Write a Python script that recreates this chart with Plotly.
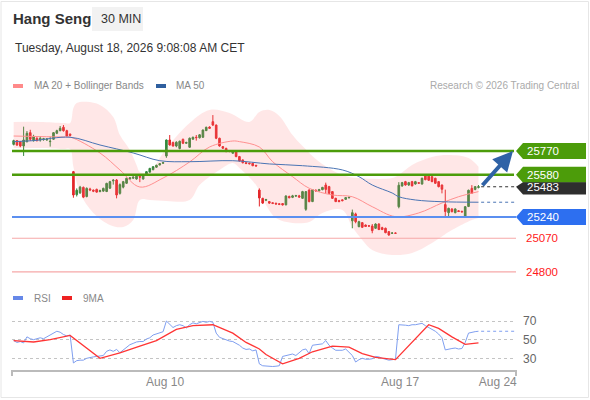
"""Hang Seng 30 min chart with Bollinger bands, MA50, key levels and RSI."""

import plotly.graph_objects as go

# ---------------- data ----------------
# 30 min bars, x = bar number (weekends/nights removed)
OPEN = [25823, 25853, 25845, 25810, 25845, 25917, 25853, 25872, 25858, 25862,
        25860, 25845, 25864, 25912, 25933, 25960, 25933, 25905, 25604, 25420,
        25435, 25478, 25405, 25465, 25455, 25462, 25445, 25448, 25445, 25472,
        25530, 25537, 25430, 25480, 25511, 25545, 25552, 25545, 25566, 25545,
        25577, 25600, 25620, 25640, 25658, 25672, 25730, 25858, 25837, 25810,
        25790, 25863, 25832, 25800, 25865, 25880, 25876, 25880, 25933, 25962,
        26005, 25978, 25872, 25805, 25791, 25770, 25752, 25765, 25725, 25698,
        25676, 25672, 25671, 25655, 25457, 25390, 25375, 25364, 25354, 25350,
        25346, 25348, 25338, 25405, 25398, 25408, 25410, 25390, 25302, 25457,
        25364, 25455, 25450, 25460, 25497, 25484, 25444, 25390, 25372, 25378,
        25382, 25394, 25210, 25265, 25163, 25195, 25176, 25170, 25168, 25150,
        25184, 25155, 25150, 25123, 25110, 25112, 25323, 25489, 25524, 25497,
        25524, 25505, 25515, 25505, 25570, 25568, 25564, 25551, 25524, 25497,
        25340, 25275, 25305, 25275, 25290, 25286, 25245, 25325, 25470, 25462,
        25478]
HIGH = [25860, 25858, 25850, 25965, 25930, 25940, 25900, 25880, 25890, 25875,
        25874, 25885, 25922, 25940, 25970, 25978, 25940, 25910, 25610, 25470,
        25490, 25485, 25478, 25475, 25462, 25468, 25460, 25476, 25515, 25530,
        25545, 25545, 25510, 25530, 25556, 25560, 25566, 25572, 25585, 25578,
        25608, 25635, 25648, 25660, 25673, 25680, 25862, 25898, 25845, 25848,
        25853, 25870, 25845, 25878, 25885, 25898, 25905, 25942, 25965, 25968,
        26058, 25982, 25876, 25810, 25796, 25775, 25770, 25770, 25730, 25702,
        25680, 25676, 25675, 25658, 25470, 25395, 25386, 25368, 25358, 25356,
        25350, 25352, 25414, 25412, 25418, 25418, 25418, 25450, 25448, 25462,
        25465, 25462, 25466, 25482, 25516, 25490, 25448, 25395, 25378, 25382,
        25400, 25404, 25300, 25275, 25210, 25200, 25180, 25175, 25184, 25190,
        25190, 25162, 25155, 25128, 25118, 25116, 25520, 25522, 25530, 25522,
        25530, 25530, 25520, 25556, 25574, 25572, 25568, 25555, 25528, 25500,
        25460, 25315, 25310, 25310, 25296, 25290, 25328, 25460, 25496, 25488,
        25497]
LOW = [25815, 25810, 25800, 25730, 25838, 25850, 25845, 25845, 25845, 25852,
       25850, 25805, 25860, 25905, 25928, 25925, 25885, 25888, 25395, 25405,
       25425, 25392, 25398, 25448, 25440, 25435, 25438, 25442, 25440, 25465,
       25500, 25390, 25420, 25470, 25505, 25540, 25545, 25540, 25520, 25540,
       25572, 25596, 25615, 25635, 25654, 25668, 25715, 25812, 25805, 25800,
       25783, 25825, 25826, 25795, 25860, 25853, 25870, 25876, 25930, 25948,
       25970, 25865, 25805, 25786, 25760, 25760, 25748, 25720, 25685, 25670,
       25664, 25662, 25648, 25645, 25325, 25345, 25368, 25346, 25344, 25340,
       25336, 25332, 25334, 25390, 25392, 25402, 25395, 25386, 25290, 25358,
       25360, 25444, 25446, 25455, 25430, 25425, 25385, 25360, 25358, 25366,
       25378, 25390, 25150, 25190, 25158, 25152, 25160, 25160, 25110, 25145,
       25135, 25135, 25110, 25090, 25105, 25106, 25310, 25484, 25492, 25490,
       25486, 25500, 25506, 25500, 25535, 25530, 25520, 25505, 25478, 25430,
       25240, 25243, 25278, 25270, 25280, 25276, 25238, 25320, 25425, 25455,
       25470]
CLOSE = [25853, 25818, 25810, 25858, 25912, 25864, 25885, 25855, 25872, 25868,
         25866, 25848, 25917, 25933, 25952, 25933, 25890, 25895, 25417, 25455,
         25480, 25400, 25470, 25458, 25448, 25440, 25452, 25470, 25510, 25524,
         25535, 25417, 25500, 25524, 25551, 25555, 25560, 25568, 25560, 25570,
         25604, 25630, 25644, 25655, 25668, 25676, 25858, 25818, 25810, 25840,
         25848, 25832, 25838, 25872, 25880, 25877, 25900, 25938, 25960, 25952,
         25978, 25872, 25810, 25792, 25765, 25766, 25765, 25725, 25690, 25676,
         25670, 25668, 25652, 25650, 25393, 25352, 25380, 25352, 25350, 25345,
         25342, 25338, 25409, 25395, 25410, 25412, 25400, 25444, 25444, 25364,
         25460, 25450, 25460, 25478, 25462, 25430, 25390, 25364, 25365, 25372,
         25396, 25398, 25275, 25203, 25203, 25158, 25165, 25168, 25131, 25184,
         25140, 25140, 25115, 25096, 25112, 25110, 25495, 25516, 25497, 25516,
         25490, 25524, 25512, 25551, 25540, 25535, 25524, 25511, 25484, 25463,
         25284, 25310, 25283, 25305, 25285, 25282, 25323, 25455, 25432, 25484,
         25483]

# Bollinger bands (read at sparse bars)
UPPER_IDX = [0, 8, 15, 17, 18, 19, 22, 26, 30, 32, 35, 37, 38, 41, 44, 46, 53, 59,
             65, 71, 74, 77, 80, 84, 87, 92, 99, 104, 114, 116, 120, 126, 131, 137, 140]
UPPER_VAL = [26003, 26003, 25995, 25995, 26115, 26155, 26165, 26139, 26043, 25898,
             25778, 25658, 25602, 25602, 25714, 25790, 25995, 26099, 26075, 26003,
             26083, 26099, 26051, 25898, 25810, 25684, 25578, 25553, 25553, 25578,
             25658, 25722, 25738, 25714, 25644]
LOWER_IDX = [0, 8, 15, 17, 18, 20, 24, 29, 33, 36, 38, 41, 46, 53, 56, 62, 66, 68,
             73, 76, 79, 84, 89, 93, 99, 102, 105, 108, 114, 120, 126, 132, 138, 140]
LOWER_VAL = [25794, 25794, 25786, 25786, 25642, 25433, 25273, 25177, 25161, 25217,
             25377, 25377, 25369, 25377, 25497, 25618, 25674, 25634, 25497, 25337,
             25233, 25193, 25201, 25273, 25297, 25161, 25056, 24976, 24936, 24952,
             25032, 25136, 25217, 25233]
MA20_IDX = [0, 15, 17, 26, 32, 38, 45, 53, 59, 66, 68, 74, 78, 84, 89, 96, 102,
            108, 115, 122, 129, 134, 140]
MA20_VAL = [25890, 25882, 25882, 25754, 25618, 25481, 25553, 25682, 25802, 25850,
            25845, 25802, 25684, 25564, 25471, 25417, 25403, 25323, 25243, 25273,
            25353, 25403, 25444]
MA50_IDX = [0, 6, 17, 26, 36, 44, 53, 66, 77, 87, 99, 104, 108, 114, 116, 121, 129, 140]
MA50_VAL = [25845, 25853, 25880, 25818, 25754, 25692, 25684, 25692, 25666, 25652,
            25618, 25564, 25497, 25433, 25403, 25377, 25363, 25359]

# key levels
RESISTANCES = [25770, 25580]
SUPPORT = 25240
SUPPORTS_2 = [25070, 24800]

# RSI per bar and its 9 period MA (sparse)
RSI = [49, 47, 48, 46.5, 53, 51, 50, 51, 52, 51,
       53, 55.5, 57, 59, 58, 55.5, 54, 55, 25, 27.5,
       28, 28, 30, 31, 31.5, 32, 32.5, 33, 37.5, 39,
       37.5, 39.5, 36, 39, 42, 44.6, 46, 47.5, 48, 48,
       50.7, 52, 55, 56.4, 57.5, 58.5, 70, 67, 63, 65,
       66, 65, 62.5, 66, 68, 67, 68, 69.6, 68.6, 69.6,
       68.6, 57, 52.5, 51, 50, 48.5, 48, 46.4, 44, 41,
       39.5, 40, 38, 39, 24, 22, 21.5, 21, 21.2, 21.5,
       22, 32, 33, 33.5, 34.6, 33, 36, 39, 40, 35,
       44, 44.3, 44.6, 45.5, 49, 44, 41, 38.6, 38.6, 38.6,
       40, 36, 33, 26, 28.5, 30, 29, 29, 29.5, 32,
       31.5, 30, 29, 28, 28.5, 29, 66, 66, 65.5, 65,
       66, 66, 66.5, 67.5, 65, 63, 61, 59, 56, 52,
       39, 40, 40.5, 41, 40, 40.5, 47, 57, 58, 58.6,
       59]
RSI_MA_IDX = [0, 6, 11, 17, 26, 32, 38, 43, 49, 54, 60, 66, 70, 74, 76, 81, 86, 90,
              96, 101, 105, 109, 115, 125, 128, 132, 136, 140]
RSI_MA_VAL = [49, 47.5, 50, 54.5, 30, 35.7, 43, 49, 61, 65, 66, 57, 47, 40, 34, 24, 30,
              37, 43, 42, 35, 31, 28.6, 66, 62, 53, 45, 46.5]
RSI_LEVELS = [30, 50, 70]

X_TICKS = [45.6, 116.4, 145.8]
X_LABELS = ['Aug 10', 'Aug 17', 'Aug 24']

# ---------------- styling ----------------
W, H = 590, 400
L, R = 12, 74
PLOT_W = W - L - R
X_RANGE = [-0.5, 151.3]
Y_RANGE = [24695, 26219]
RSI_RANGE = [17.45, 81.8]
MAIN_TOP, MAIN_BOTTOM = 95, 285
RSI_TOP, RSI_BOTTOM = 310, 370
PRICE_PER_PX = (Y_RANGE[1] - Y_RANGE[0]) / (MAIN_BOTTOM - MAIN_TOP)

GREEN = '#4c9c0a'
CANDLE_UP = '#34883c'
CANDLE_DOWN = '#e4262a'
BLUE_LEVEL = '#5b8ff0'
BLUE_TAG = '#2d6ff0'
RED_LEVEL = '#f6a8a8'
FONT = 'Liberation Sans, Arial, sans-serif'


def px(x):
    """Pixel column -> paper x."""
    return (x - L) / PLOT_W


def py(y):
    """Pixel row -> paper y."""
    return (H - y) / H


bars = list(range(len(OPEN)))
fig = go.Figure()

fig.add_trace(go.Scatter(x=UPPER_IDX, y=UPPER_VAL, mode='lines',
                         line=dict(width=0, shape='spline'), hoverinfo='skip'))
fig.add_trace(go.Scatter(x=LOWER_IDX, y=LOWER_VAL, mode='lines',
                         line=dict(width=0, shape='spline'), fill='tonexty',
                         fillcolor='rgba(255,120,120,0.18)', hoverinfo='skip'))
fig.add_trace(go.Scatter(x=MA20_IDX, y=MA20_VAL, mode='lines',
                         line=dict(color='#ff9090', width=1, shape='spline')))
fig.add_trace(go.Scatter(x=MA50_IDX, y=MA50_VAL, mode='lines',
                         line=dict(color='#4a74b4', width=1, shape='spline')))
fig.add_trace(go.Candlestick(
    x=bars, open=OPEN, high=HIGH, low=LOW, close=CLOSE,
    increasing=dict(line=dict(color=CANDLE_UP, width=1), fillcolor=CANDLE_UP),
    decreasing=dict(line=dict(color=CANDLE_DOWN, width=1), fillcolor=CANDLE_DOWN),
    whiskerwidth=0,
))

# RSI panel
fig.add_trace(go.Scatter(x=bars, y=RSI, mode='lines', xaxis='x2', yaxis='y2',
                         line=dict(color='#7f9ff0', width=1)))
fig.add_trace(go.Scatter(x=RSI_MA_IDX, y=RSI_MA_VAL, mode='lines', xaxis='x2', yaxis='y2',
                         line=dict(color='#ff3535', width=1.3)))

shapes = []
annotations = []


def tag(level, color, top_px=8, bottom_px=8):
    top = level + top_px * PRICE_PER_PX
    bottom = level - bottom_px * PRICE_PER_PX
    path = (f'M {px(516)},{level} L {px(523)},{top} L {px(586)},{top} '
            f'L {px(586)},{bottom} L {px(523)},{bottom} Z')
    shapes.append(dict(type='path', path=path, xref='paper', yref='y',
                       fillcolor=color, line=dict(width=0)))
    annotations.append(dict(text=f'{level:d}', x=px(525), y=level, xref='paper', yref='y',
                            xanchor='left', yanchor='middle', showarrow=False,
                            font=dict(color='white', size=11.5)))


for lvl in RESISTANCES:
    shapes.append(dict(type='line', xref='paper', yref='y', x0=0, x1=px(514), y0=lvl, y1=lvl,
                       line=dict(color=GREEN, width=2.5)))
    tag(lvl, GREEN)

shapes.append(dict(type='line', xref='paper', yref='y', x0=0, x1=px(516), y0=SUPPORT, y1=SUPPORT,
                   line=dict(color=BLUE_LEVEL, width=2)))
tag(SUPPORT, BLUE_TAG)

for lvl in SUPPORTS_2:
    shapes.append(dict(type='line', xref='paper', yref='y', x0=0, x1=px(516), y0=lvl, y1=lvl,
                       line=dict(color=RED_LEVEL, width=1.2)))
    annotations.append(dict(text=f'{lvl:d}', x=px(524), y=lvl, xref='paper', yref='y',
                            xanchor='left', yanchor='middle', showarrow=False,
                            font=dict(color='#ff1a1a', size=11.5)))

# last price: dotted line and dark tag pushed below the 25580 tag
last = CLOSE[-1]
shapes.append(dict(type='line', xref='x', yref='y', x0=bars[-1] + 0.8, x1=X_RANGE[1],
                   y0=last, y1=last, line=dict(color='#333', width=1, dash='dot')))
tag(last, '#2e2e2e', top_px=4.6, bottom_px=7.7)
shapes.append(dict(type='line', xref='x', yref='y', x0=bars[-1] + 0.8, x1=X_RANGE[1],
                   y0=MA50_VAL[-1], y1=MA50_VAL[-1],
                   line=dict(color='#4a74b4', width=1, dash='dot')))
shapes.append(dict(type='line', xref='x2', yref='y2', x0=bars[-1] + 0.8, x1=X_RANGE[1],
                   y0=RSI[-1], y1=RSI[-1], line=dict(color='#7f9ff0', width=1, dash='dot')))

# forecast arrow towards first resistance
annotations.append(dict(x=X_RANGE[1] - 0.9, y=RESISTANCES[0], ax=bars[-1] + 0.8, ay=last,
                        xref='x', yref='y', axref='x', ayref='y', text='', showarrow=True,
                        arrowhead=2, arrowsize=1, arrowwidth=4, arrowcolor='#2f62a6',
                        standoff=0, startstandoff=0))

# axis end ticks
for xe in (0, 1):
    shapes.append(dict(type='line', xref='paper', yref='paper', x0=xe, x1=xe,
                       y0=py(RSI_BOTTOM), y1=py(RSI_BOTTOM + 6),
                       line=dict(color='#bbbbbb', width=2)))

# card border
shapes.append(dict(type='rect', xref='paper', yref='paper', x0=px(1), x1=px(588.5),
                   y0=py(397.5), y1=py(1.5), line=dict(color='#e6e6e6', width=1), layer='below'))

# header
shapes.append(dict(type='rect', xref='paper', yref='paper', x0=px(92), x1=px(143),
                   y0=py(31), y1=py(7), fillcolor='#f2f2f2', line=dict(width=0)))
annotations += [
    dict(text='<b>Hang Seng</b>', x=px(11), y=py(19), font=dict(size=15, color='#333')),
    dict(text='30 MIN', x=px(99), y=py(19), font=dict(size=12.5, color='#333')),
    dict(text='Tuesday, August 18, 2026 9:08:08 AM CET', x=px(13), y=py(48),
         font=dict(size=12, color='#333')),
    dict(text='MA 20 + Bollinger Bands', x=px(32), y=py(86), font=dict(size=10, color='#888')),
    dict(text='MA 50', x=px(174), y=py(86), font=dict(size=10, color='#888')),
    dict(text='Research © 2026 Trading Central', x=px(581), y=py(86), xanchor='right',
         font=dict(size=10, color='#aaa')),
    dict(text='RSI', x=px(32), y=py(298), font=dict(size=10, color='#888')),
    dict(text='9MA', x=px(81), y=py(298), font=dict(size=10, color='#888')),
]
for a in annotations[-8:]:
    a.update(xref='paper', yref='paper', yanchor='middle', showarrow=False)
    a.setdefault('xanchor', 'left')

for x0, yc, color in [(13, 86, '#ff8a8a'), (156, 86, '#2f5f9f'),
                      (13, 298, '#6688e8'), (62, 298, '#ee2222')]:
    shapes.append(dict(type='rect', xref='paper', yref='paper', x0=px(x0), x1=px(x0 + 10),
                       y0=py(yc + 2), y1=py(yc - 2), fillcolor=color, line=dict(width=0)))

fig.update_layout(
    width=W, height=H,
    margin=dict(l=L, r=R, t=0, b=0),
    paper_bgcolor='white', plot_bgcolor='white',
    showlegend=False, hovermode=False,
    font=dict(family=FONT, color='#333'),
    xaxis=dict(domain=[0, 1], range=X_RANGE, visible=False, anchor='y',
               rangeslider=dict(visible=False)),
    yaxis=dict(domain=[py(MAIN_BOTTOM), py(MAIN_TOP)], range=Y_RANGE, visible=False),
    xaxis2=dict(domain=[0, 1], range=X_RANGE, anchor='y2', showline=True,
                linecolor='#bbbbbb', linewidth=2, showgrid=False, zeroline=False,
                tickvals=X_TICKS, ticktext=X_LABELS, ticks='',
                tickfont=dict(size=12, color='#888')),
    yaxis2=dict(domain=[py(RSI_BOTTOM), py(RSI_TOP)], range=RSI_RANGE, anchor='x2',
                side='right', tickvals=RSI_LEVELS, showgrid=True, gridcolor='#c4c4c4',
                griddash='dot', zeroline=False, showline=False, ticks='',
                ticklabelstandoff=6, tickfont=dict(size=12, color='#666')),
    shapes=shapes,
    annotations=annotations,
)

# the page's default body margin would push the 590x400 figure off the window
fig.write_html("out.html", config={'displayModeBar': False},
               post_script="document.body.style.margin = '0';")
